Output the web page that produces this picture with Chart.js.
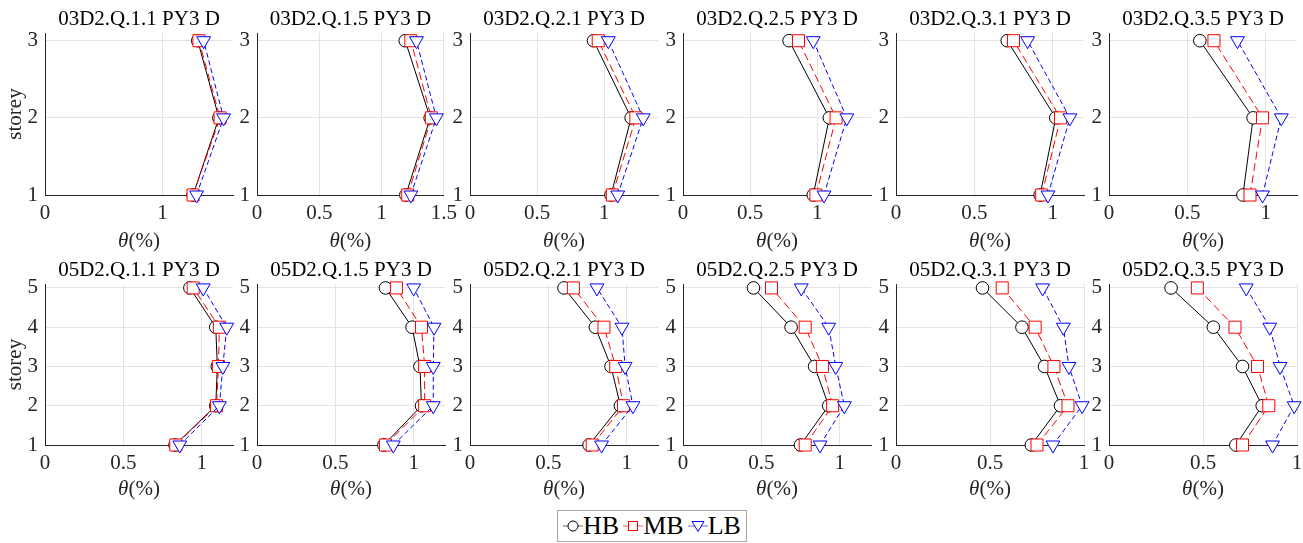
<!DOCTYPE html>
<html>
<head>
<meta charset="utf-8">
<script src="https://cdn.jsdelivr.net/npm/chart.js@4.4.1/dist/chart.umd.min.js"></script>
<style>
  body { margin: 0; background: #fff; }
  #wrap { position: relative; width: 1303px; height: 543px; overflow: hidden; }
  #wrap canvas { position: absolute; }
  #legend {
    position: absolute; left: 557px; top: 510px; width: 188px; height: 30px;
    border: 1px solid #a6a6a6; background: #fff;
    display: flex; align-items: center; justify-content: center;
    font: 26px "Liberation Serif", "Times New Roman", serif; color: #000;
  }
  #legend .item { display: flex; align-items: center; }
  #legend .item + .item { margin-left: 4px; }
  #legend svg { display: block; }
</style>
</head>
<body>
<div id="wrap">
  <div id="legend"></div>
</div>
<script>
const FONT = '"Liberation Serif", "Times New Roman", serif';

// panel titles, row 1 = 3 storeys, row 2 = 5 storeys
const titles = [
  '03D2.Q.1.1 PY3 D', '03D2.Q.1.5 PY3 D', '03D2.Q.2.1 PY3 D',
  '03D2.Q.2.5 PY3 D', '03D2.Q.3.1 PY3 D', '03D2.Q.3.5 PY3 D',
  '05D2.Q.1.1 PY3 D', '05D2.Q.1.5 PY3 D', '05D2.Q.2.1 PY3 D',
  '05D2.Q.2.5 PY3 D', '05D2.Q.3.1 PY3 D', '05D2.Q.3.5 PY3 D'
];
const storeys3 = [1, 2, 3];
const storeys5 = [1, 2, 3, 4, 5];

// theta (%) per storey, bottom to top
const hb = [
  [1.26, 1.48, 1.30], [1.195, 1.39, 1.19], [1.05, 1.20, 0.92],
  [0.97, 1.09, 0.79], [0.92, 1.02, 0.71], [0.855, 0.92, 0.58],
  [0.83, 1.09, 1.10, 1.09, 0.925], [0.81, 1.05, 1.04, 0.99, 0.82],
  [0.76, 0.96, 0.90, 0.80, 0.60], [0.75, 0.93, 0.84, 0.69, 0.45],
  [0.72, 0.875, 0.79, 0.67, 0.46], [0.675, 0.815, 0.71, 0.555, 0.33]
];
const mb = [
  [1.26, 1.49, 1.31], [1.21, 1.40, 1.235], [1.06, 1.235, 0.955],
  [0.99, 1.14, 0.86], [0.93, 1.05, 0.75], [0.90, 0.98, 0.67],
  [0.835, 1.095, 1.107, 1.113, 0.946], [0.82, 1.07, 1.07, 1.05, 0.89],
  [0.78, 0.98, 0.93, 0.855, 0.66], [0.78, 0.955, 0.89, 0.78, 0.565],
  [0.75, 0.915, 0.84, 0.74, 0.565], [0.71, 0.85, 0.79, 0.67, 0.47]
];
const lb = [
  [1.29, 1.52, 1.35], [1.235, 1.44, 1.28], [1.10, 1.29, 1.03],
  [1.05, 1.22, 0.97], [0.97, 1.11, 0.84], [0.98, 1.10, 0.82],
  [0.86, 1.113, 1.135, 1.16, 1.01], [0.87, 1.125, 1.125, 1.13, 1.0],
  [0.84, 1.04, 0.99, 0.97, 0.81], [0.875, 1.03, 0.975, 0.93, 0.755],
  [0.835, 0.99, 0.92, 0.89, 0.78], [0.87, 0.985, 0.91, 0.855, 0.73]
];

const xMax = [1.6, 1.5, 1.4, 1.4, 1.2, 1.2, 1.2, 1.2, 1.2, 1.2, 1, 1];
const xTicks = [
  [0, 1], [0, 0.5, 1, 1.5], [0, 0.5, 1], [0, 0.5, 1], [0, 0.5, 1], [0, 0.5, 1],
  [0, 0.5, 1], [0, 0.5, 1], [0, 0.5, 1], [0, 0.5, 1], [0, 0.5, 1], [0, 0.5, 1]
];

const seriesNames = ['HB', 'MB', 'LB'];
const seriesColors = ['#000000', '#ff0000', '#0000ff'];
const seriesDash = [[], [8, 4], [5, 3]];
const seriesMarkers = ['circle', 'rect', 'triangle'];
const seriesValues = [hb, mb, lb];

// layout
const colLeft = [45, 257, 470, 683, 896, 1109];
const PLOT_W = 188, Y_W = 45, RIGHT_PAD = 20;
const markerRadius = [6.3, 8.5, 8];

const thetaLabel = {
  id: 'thetaLabel',
  afterDraw(chart) {
    const { ctx, chartArea, scales } = chart;
    const y = scales.x.bottom - 12.6;
    const cx = (chartArea.left + chartArea.right) / 2;
    const f1 = 'italic 21px ' + FONT, f2 = '21px ' + FONT;
    ctx.save();
    ctx.textBaseline = 'middle';
    ctx.textAlign = 'left';
    ctx.fillStyle = '#262626';
    ctx.font = f1; const w1 = ctx.measureText('θ').width;
    ctx.font = f2; const w2 = ctx.measureText('(%)').width;
    const x = cx - (w1 + w2) / 2;
    ctx.font = f1; ctx.fillText('θ', x, y);
    ctx.font = f2; ctx.fillText('(%)', x + w1, y);
    ctx.restore();
  }
};

const wrap = document.getElementById('wrap');

function makePanel(i) {
  const row = i < 6 ? 0 : 1, col = i % 6;
  const storeys = row === 0 ? storeys3 : storeys5;
  const h = row === 0 ? 254 : 251;
  const xH = row === 0 ? 59 : 57;
  const canvas = document.createElement('canvas');
  canvas.width = Y_W + PLOT_W + RIGHT_PAD;
  canvas.height = h;
  canvas.style.left = (colLeft[col] - Y_W) + 'px';
  canvas.style.top = (row === 0 ? 0 : 251) + 'px';
  wrap.appendChild(canvas);

  const tickFont = { family: FONT, size: 21, lineHeight: 1 };

  new Chart(canvas, {
    type: 'line',
    data: {
      datasets: seriesNames.map((name, s) => ({
        label: name,
        data: storeys.map((st, k) => ({ x: seriesValues[s][i][k], y: st })),
        borderColor: seriesColors[s],
        borderWidth: 1,
        borderDash: seriesDash[s],
        pointStyle: seriesMarkers[s],
        pointRotation: s === 2 ? 180 : 0,
        pointRadius: markerRadius[s],
        pointHoverRadius: markerRadius[s],
        pointBorderColor: seriesColors[s],
        pointBackgroundColor: '#ffffff',
        pointBorderWidth: 1,
        fill: false,
        tension: 0,
        clip: false,
        order: 3 - s
      }))
    },
    options: {
      responsive: false,
      animation: false,
      devicePixelRatio: 1,
      events: [],
      layout: { padding: { left: 0, right: RIGHT_PAD, top: 0, bottom: 0 } },
      plugins: {
        legend: { display: false },
        tooltip: { enabled: false },
        title: {
          display: true,
          fullSize: false,
          text: titles[i],
          color: '#000',
          font: { family: FONT, size: 21, weight: 'normal', lineHeight: 1.2 },
          padding: { top: 7, bottom: 0.8 }
        }
      },
      scales: {
        x: {
          type: 'linear',
          min: 0,
          max: xMax[i],
          afterBuildTicks: (scale) => { scale.ticks = xTicks[i].map(v => ({ value: v })); },
          afterFit: (scale) => { scale.height = xH; },
          ticks: {
            color: '#262626', font: tickFont, padding: 8, maxRotation: 0, autoSkip: false,
            callback: (v) => String(v)
          },
          grid: { color: '#e3e3e3', lineWidth: 1, drawTicks: false },
          border: { display: true, color: '#262626', width: 1 },
          title: { display: false }
        },
        y: {
          type: 'linear',
          min: 1,
          max: storeys.length + 0.1,
          afterBuildTicks: (scale) => { scale.ticks = storeys.map(v => ({ value: v })); },
          afterFit: (scale) => { scale.width = Y_W; },
          ticks: {
            color: '#262626', font: tickFont, padding: 7, autoSkip: false,
            callback: (v) => String(v)
          },
          grid: { color: '#e3e3e3', lineWidth: 1, drawTicks: false },
          border: { display: true, color: '#262626', width: 1 },
          title: {
            display: col === 0,
            text: 'storey',
            color: '#262626',
            font: { family: FONT, size: 21, lineHeight: 1.2 },
            padding: { top: 3, bottom: 0 }
          }
        }
      }
    },
    plugins: [thetaLabel]
  });
}

for (let i = 0; i < titles.length; i++) makePanel(i);

// legend
function markerSvg(s) {
  const c = seriesColors[s];
  let m;
  if (seriesMarkers[s] === 'circle') m = `<circle cx="10" cy="10" r="5" fill="#fff" stroke="${c}" stroke-width="1"/>`;
  else if (seriesMarkers[s] === 'rect') m = `<rect x="5.5" y="5.5" width="9" height="9" fill="#fff" stroke="${c}" stroke-width="1"/>`;
  else m = `<polygon points="4,5.5 16,5.5 10,15.5" fill="#fff" stroke="${c}" stroke-width="1"/>`;
  return `<svg width="20" height="20" viewBox="0 0 20 20"><line x1="0" y1="10" x2="20" y2="10" stroke="${c}" stroke-opacity="0.6" stroke-width="1"/>${m}</svg>`;
}
document.getElementById('legend').innerHTML = seriesNames
  .map((name, s) => `<div class="item">${markerSvg(s)}<span>${name}</span></div>`)
  .join('');
</script>
</body>
</html>
